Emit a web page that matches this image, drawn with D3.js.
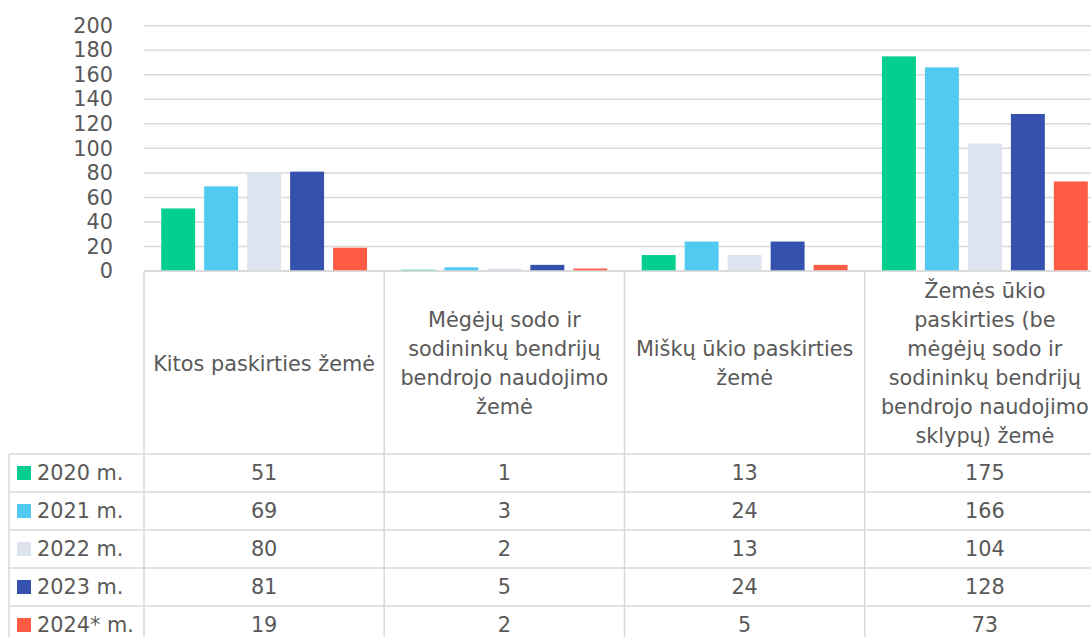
<!DOCTYPE html>
<html>
<head>
<meta charset="utf-8">
<script src="https://cdn.jsdelivr.net/npm/d3@7"></script>
<style>
  body { margin: 0; background: #fff; }
  svg { display: block; font-family: "DejaVu Sans", Verdana, sans-serif; }
</style>
</head>
<body>
<script>
// categories (header lines as they wrap in the table)
var categories = [
  ["Kitos paskirties žemė"],
  ["Mėgėjų sodo ir", "sodininkų bendrijų", "bendrojo naudojimo", "žemė"],
  ["Miškų ūkio paskirties", "žemė"],
  ["Žemės ūkio", "paskirties (be", "mėgėjų sodo ir", "sodininkų bendrijų", "bendrojo naudojimo", "sklypų) žemė"]
];
var years = ["2020 m.", "2021 m.", "2022 m.", "2023 m.", "2024* m."];
var colors = ["#05cf8f", "#51caf2", "#dde4ef", "#3351ad", "#fe5b45"];
var v2020 = [51, 1, 13, 175];
var v2021 = [69, 3, 24, 166];
var v2022 = [80, 2, 13, 104];
var v2023 = [81, 5, 24, 128];
var v2024 = [19, 2, 5, 73];
var yTicks = [0, 20, 40, 60, 80, 100, 120, 140, 160, 180, 200];

var series = [v2020, v2021, v2022, v2023, v2024];

var W = 1091, H = 637;
var plotLeft = 144, plotRight = 1105, plotTop = 25.7, base = 271;
var headerBottom = 454, rowH = 38, legendLeft = 9;
var textColor = "#595959", lineColor = "#d9d9d9", fs = 20.8;

var svg = d3.select("body").append("svg")
  .attr("width", W).attr("height", H);

// scales
var x = d3.scaleBand().domain(d3.range(categories.length)).range([plotLeft, plotRight]);
var xi = d3.scaleBand().domain(d3.range(years.length)).range([0, x.bandwidth()])
  .paddingInner(0.21).paddingOuter(0.4);
var y = d3.scaleLinear().domain([0, 200]).range([base, plotTop]);

// gridlines
svg.append("g").selectAll("line").data(yTicks).join("line")
  .attr("x1", plotLeft).attr("x2", W)
  .attr("y1", function (d) { return y(d); }).attr("y2", function (d) { return y(d); })
  .attr("stroke", lineColor).attr("stroke-width", 1.5);

// y labels
var yAxis = svg.append("g")
  .attr("transform", "translate(" + plotLeft + ",0)")
  .call(d3.axisLeft(y).tickValues(yTicks).tickSize(0).tickPadding(31));
yAxis.select(".domain").remove();
yAxis.selectAll("text").attr("fill", textColor)
  .style("font-size", fs + "px").style("font-family", "DejaVu Sans, sans-serif");

// bars
series.forEach(function (vals, s) {
  svg.append("g").selectAll("rect").data(vals).join("rect")
    .attr("x", function (d, i) { return x(i) + xi(s); })
    .attr("width", xi.bandwidth())
    .attr("y", function (d) { return y(d); })
    .attr("height", function (d) { return base - y(d); })
    .attr("fill", colors[s]);
});

// table lines
var tbl = svg.append("g").attr("stroke", lineColor).attr("stroke-width", 1.5);
tbl.append("line").attr("x1", plotLeft).attr("x2", W).attr("y1", base).attr("y2", base);
var rowLines = d3.range(years.length + 1).map(function (i) { return headerBottom + i * rowH; });
tbl.selectAll(".hl").data(rowLines).join("line")
  .attr("x1", legendLeft).attr("x2", W)
  .attr("y1", function (d) { return d; }).attr("y2", function (d) { return d; });
tbl.append("line").attr("x1", legendLeft).attr("x2", legendLeft)
  .attr("y1", headerBottom).attr("y2", H);
tbl.selectAll(".vl").data(d3.range(categories.length)).join("line")
  .attr("x1", function (i) { return x(i); }).attr("x2", function (i) { return x(i); })
  .attr("y1", base).attr("y2", H);

// header texts
var lineH = 29, headMid = (base + headerBottom) / 2 + 1;
categories.forEach(function (lines, i) {
  var cx = x(i) + x.bandwidth() / 2;
  var y0 = headMid - (lines.length - 1) * lineH / 2;
  svg.append("text").attr("text-anchor", "middle").attr("fill", textColor)
    .style("font-size", fs + "px")
    .selectAll("tspan").data(lines).join("tspan")
    .attr("x", cx).attr("y", function (d, k) { return y0 + k * lineH; })
    .attr("dy", "0.35em").text(function (d) { return d; });
});

// rows
years.forEach(function (yr, s) {
  var cy = headerBottom + s * rowH + rowH / 2;
  svg.append("rect").attr("x", 17).attr("y", cy - 7).attr("width", 14).attr("height", 14)
    .attr("fill", colors[s]);
  svg.append("text").attr("x", 37).attr("y", cy).attr("dy", "0.35em")
    .attr("fill", textColor).style("font-size", fs + "px").text(yr);
  svg.append("g").selectAll("text").data(series[s]).join("text")
    .attr("x", function (d, i) { return x(i) + x.bandwidth() / 2; })
    .attr("y", cy).attr("dy", "0.35em").attr("text-anchor", "middle")
    .attr("fill", textColor).style("font-size", fs + "px")
    .text(function (d) { return d; });
});
</script>
</body>
</html>
